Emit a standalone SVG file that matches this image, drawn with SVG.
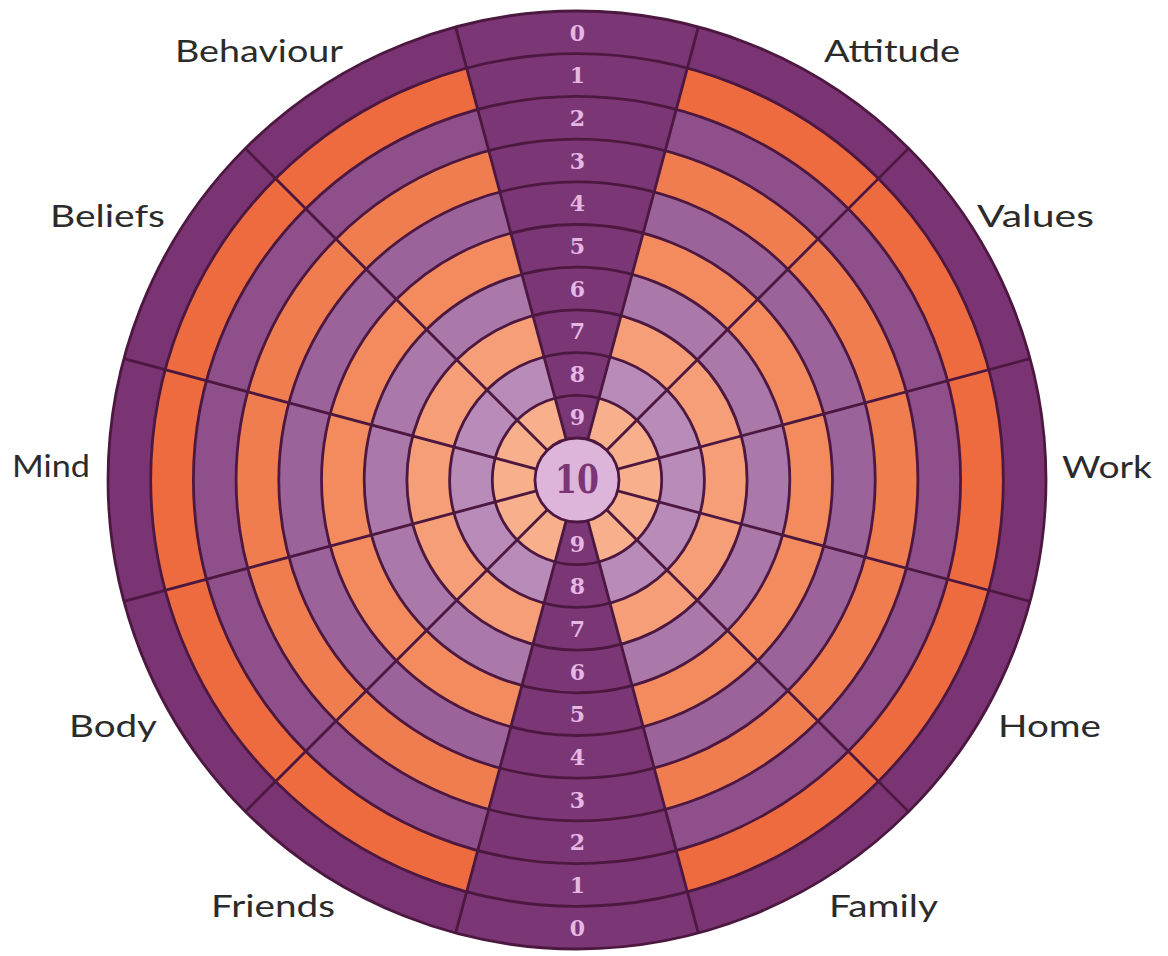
<svg xmlns="http://www.w3.org/2000/svg" width="1168" height="956" viewBox="0 0 1168 956">
  <style>
    .grid { fill: none; stroke: #4c1840; stroke-width: 2.8; }
    .lab { font-family: Lato, "Open Sans", "Liberation Sans", sans-serif; font-size: 31px; font-weight: 400; fill: #2b2b2b; }
    .num { font-family: "DejaVu Serif", "Liberation Serif", serif; font-size: 22px; font-weight: bold; fill: #e6b7e2; text-anchor: middle; }
    .wedge { fill: #7b3676; }
  </style>
  <rect width="1168" height="956" fill="#ffffff"/>
  <g id="rings">
    <circle cx="577" cy="480" r="469" fill="#7a3474"/>
    <circle cx="577" cy="480" r="426.3" fill="#ee6b40"/>
    <circle cx="577" cy="480" r="383.6" fill="#8e4f8a"/>
    <circle cx="577" cy="480" r="340.9" fill="#f07d50"/>
    <circle cx="577" cy="480" r="298.2" fill="#9b639a"/>
    <circle cx="577" cy="480" r="255.5" fill="#f38b5e"/>
    <circle cx="577" cy="480" r="212.8" fill="#aa78a9"/>
    <circle cx="577" cy="480" r="170.1" fill="#f69e78"/>
    <circle cx="577" cy="480" r="127.4" fill="#b98bb9"/>
    <circle cx="577" cy="480" r="84.7" fill="#f8b08c"/>
    <circle cx="577" cy="480" r="42" fill="#ddb5db"/>
  </g>
  <g id="wedges">
    <path class="wedge" d="M455.61 26.98 A469 469 0 0 1 698.39 26.98 L587.87 439.43 A42 42 0 0 0 566.13 439.43 Z"/>
    <path class="wedge" d="M698.39 933.02 A469 469 0 0 1 455.61 933.02 L566.13 520.57 A42 42 0 0 0 587.87 520.57 Z"/>
  </g>
  <g id="connectors">
    <circle class="grid" cx="577" cy="480" r="469"/>
    <circle class="grid" cx="577" cy="480" r="426.3"/>
    <circle class="grid" cx="577" cy="480" r="383.6"/>
    <circle class="grid" cx="577" cy="480" r="340.9"/>
    <circle class="grid" cx="577" cy="480" r="298.2"/>
    <circle class="grid" cx="577" cy="480" r="255.5"/>
    <circle class="grid" cx="577" cy="480" r="212.8"/>
    <circle class="grid" cx="577" cy="480" r="170.1"/>
    <circle class="grid" cx="577" cy="480" r="127.4"/>
    <circle class="grid" cx="577" cy="480" r="84.7"/>
    <circle class="grid" cx="577" cy="480" r="42"/>
    <line class="grid" x1="587.87" y1="439.43" x2="698.39" y2="26.98"/>
    <line class="grid" x1="606.70" y1="450.30" x2="908.63" y2="148.37"/>
    <line class="grid" x1="617.57" y1="469.13" x2="1030.02" y2="358.61"/>
    <line class="grid" x1="617.57" y1="490.87" x2="1030.02" y2="601.39"/>
    <line class="grid" x1="606.70" y1="509.70" x2="908.63" y2="811.63"/>
    <line class="grid" x1="587.87" y1="520.57" x2="698.39" y2="933.02"/>
    <line class="grid" x1="566.13" y1="520.57" x2="455.61" y2="933.02"/>
    <line class="grid" x1="547.30" y1="509.70" x2="245.37" y2="811.63"/>
    <line class="grid" x1="536.43" y1="490.87" x2="123.98" y2="601.39"/>
    <line class="grid" x1="536.43" y1="469.13" x2="123.98" y2="358.61"/>
    <line class="grid" x1="547.30" y1="450.30" x2="245.37" y2="148.37"/>
    <line class="grid" x1="566.13" y1="439.43" x2="455.61" y2="26.98"/>
  </g>
  <g id="scale-top">
    <text class="num" x="577.5" y="40.5">0</text>
    <text class="num" x="577.5" y="83.2">1</text>
    <text class="num" x="577.5" y="125.9">2</text>
    <text class="num" x="577.5" y="168.6">3</text>
    <text class="num" x="577.5" y="211.3">4</text>
    <text class="num" x="577.5" y="254">5</text>
    <text class="num" x="577.5" y="296.7">6</text>
    <text class="num" x="577.5" y="339.4">7</text>
    <text class="num" x="577.5" y="382.1">8</text>
    <text class="num" x="577.5" y="424.8">9</text>
  </g>
  <g id="scale-bottom">
    <text class="num" x="577.5" y="935.8">0</text>
    <text class="num" x="577.5" y="893.1">1</text>
    <text class="num" x="577.5" y="850.4">2</text>
    <text class="num" x="577.5" y="807.7">3</text>
    <text class="num" x="577.5" y="765">4</text>
    <text class="num" x="577.5" y="722.3">5</text>
    <text class="num" x="577.5" y="679.6">6</text>
    <text class="num" x="577.5" y="636.9">7</text>
    <text class="num" x="577.5" y="594.2">8</text>
    <text class="num" x="577.5" y="551.5">9</text>
  </g>
  <g id="center">
    <text x="577" y="493" font-family="'DejaVu Serif', 'Liberation Serif', serif" font-size="40" font-weight="bold" fill="#7b3575" text-anchor="middle" textLength="44" lengthAdjust="spacingAndGlyphs">10</text>
  </g>
  <g id="label-behaviour"><text class="lab" x="175" y="62" textLength="168" lengthAdjust="spacingAndGlyphs">Behaviour</text></g>
  <g id="label-attitude"><text class="lab" x="824" y="62" textLength="136" lengthAdjust="spacingAndGlyphs">Attitude</text></g>
  <g id="label-beliefs"><text class="lab" x="50" y="227" textLength="115" lengthAdjust="spacingAndGlyphs">Beliefs</text></g>
  <g id="label-values"><text class="lab" x="977" y="227" textLength="117" lengthAdjust="spacingAndGlyphs">Values</text></g>
  <g id="label-mind"><text class="lab" x="12" y="477" textLength="78" lengthAdjust="spacingAndGlyphs">Mind</text></g>
  <g id="label-work"><text class="lab" x="1062" y="478" textLength="90" lengthAdjust="spacingAndGlyphs">Work</text></g>
  <g id="label-body"><text class="lab" x="69" y="737" textLength="88" lengthAdjust="spacingAndGlyphs">Body</text></g>
  <g id="label-home"><text class="lab" x="998" y="737" textLength="103" lengthAdjust="spacingAndGlyphs">Home</text></g>
  <g id="label-friends"><text class="lab" x="211" y="917" textLength="124" lengthAdjust="spacingAndGlyphs">Friends</text></g>
  <g id="label-family"><text class="lab" x="829" y="917" textLength="109" lengthAdjust="spacingAndGlyphs">Family</text></g>
</svg>
